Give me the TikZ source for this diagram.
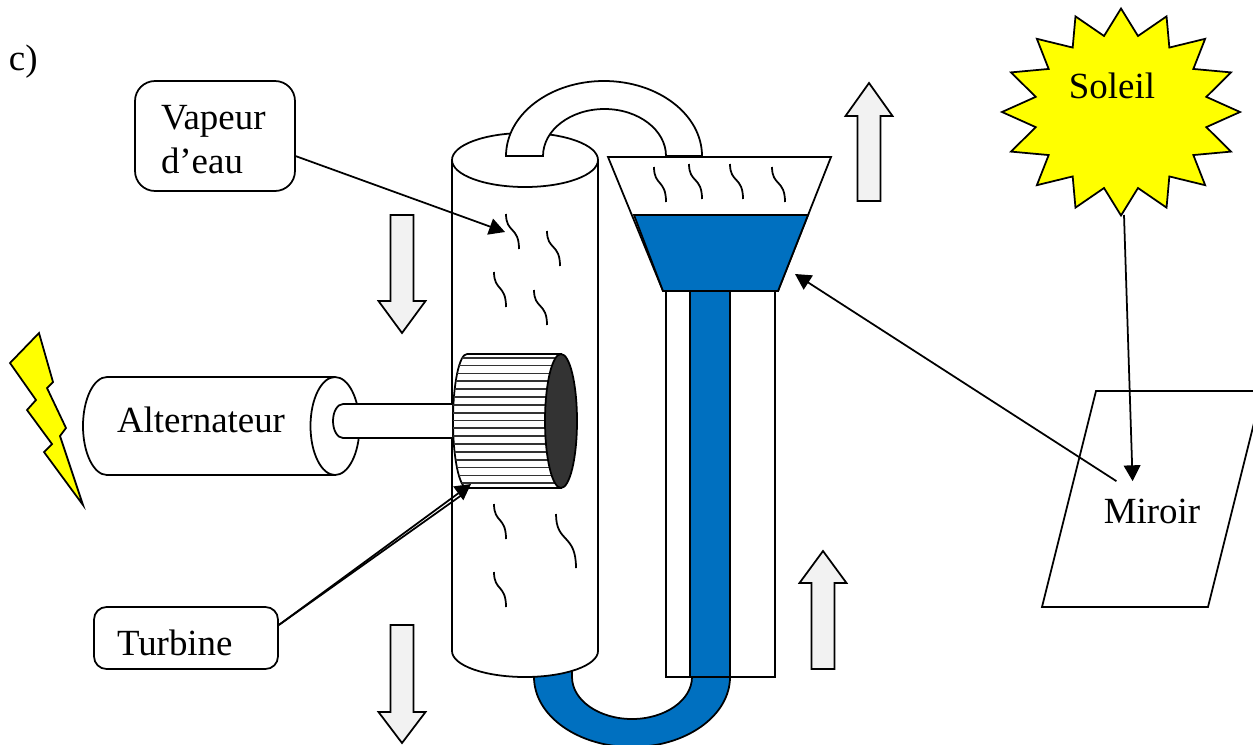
\documentclass[tikz,border=0pt]{standalone}
\usepackage{fontspec}
\setmainfont{Liberation Serif}
\usetikzlibrary{arrows.meta}

\definecolor{eau}{HTML}{0070C0}
\definecolor{jaune}{HTML}{FFFF00}
\definecolor{grisfleche}{HTML}{F2F2F2}

\newcommand{\flechevert}[4]{
	\draw[fleche] (#1,#2) -- (#1+23.5,#3) -- (#1+11.5,#3) -- (#1+11.5,#4)
	-- (#1-11.5,#4) -- (#1-11.5,#3) -- (#1-23.5,#3) -- cycle;
}
\newcommand{\vague}[4]{
	\draw (#1,#2) .. controls (#1,#2+0.55*#4) and (#1+#3,#2+0.35*#4) .. (#1+#3,#2+#4);
}
\newcommand{\descend}[2]{\raisebox{-#1}[\height][\depth]{#2}}

\begin{document}
\begin{tikzpicture}[
			x=0.02cm,
			y=-0.02cm,
			line width=1pt,
			every node/.style={
					font=\fontsize{21}{25}\selectfont,
					inner sep=0pt
				},
			boite/.style={
					draw,
					rounded corners=0.4cm,
					align=left
				},
			fleche/.style={
					draw,
					fill=grisfleche
				},
			>={Stealth[inset=0pt,length=9pt,width=9.5pt]}
		]

		\useasboundingbox (0,0) rectangle (1253,744);

		\node (partie) [anchor=base west] at (8,70) {c)};

		% tube du bas
		\draw[fill=eau] (534,655) -- (534,677) arc[start angle=180,end angle=0,x radius=98,y radius=70]
		-- (692,677) arc[start angle=0,end angle=180,x radius=60,y radius=42] -- (572,655) -- cycle;

		% cylindre
		\draw[fill=white] (452,160) -- (452,651)
		arc[start angle=180,end angle=0,x radius=73,y radius=26] -- (598,160) -- cycle;
		\draw[fill=white] (525,160) ellipse[x radius=73,y radius=27];

		% tube du haut
		\draw[fill=white] (506,156) arc[start angle=180,end angle=360,x radius=98,y radius=75]
		-- (666,156) arc[start angle=360,end angle=180,x radius=61.5,y radius=47] -- cycle;

		% reservoir
		\draw[fill=white] (608,157) -- (831,157) -- (778,291) -- (663,291) -- cycle;
		\draw[fill=eau] (634,215) -- (808,215) -- (778,291) -- (663,291) -- cycle;
		\draw[fill=white] (666,291) rectangle (775,677);
		\draw[fill=eau] (690,291) rectangle (730,677);

		\vague{654}{167}{12}{35}
		\vague{689}{164}{13}{35}
		\vague{730}{164}{13}{35}
		\vague{772}{167}{13}{35}
		\vague{506}{214}{13}{35}
		\vague{547}{231}{13}{35}
		\vague{494}{272}{12}{35}
		\vague{534}{290}{13}{35}
		\vague{494}{504}{12}{35}
		\vague{556}{514}{20}{54}
		\vague{494}{572}{12}{35}

		% alternateur
		\draw[fill=white] (335,377) -- (107,377)
		arc[start angle=270,end angle=180,x radius=24,y radius=49]
		arc[start angle=180,end angle=90,x radius=24,y radius=49] -- (335,475);
		\draw[fill=white] (335,426) ellipse[x radius=24.5,y radius=49];
		\draw[fill=white] (452,404) -- (343,404)
		arc[start angle=270,end angle=90,x radius=10,y radius=17] -- (452,438);
		\node (alternateur) [anchor=base] at (201,432) {Alternateur};

		% turbine
		\begin{scope}
			\draw[fill=white] (467,354) -- (561,354) -- (561,488) -- (467,488)
			arc[start angle=90,end angle=270,x radius=14,y radius=67];
			\clip (467,354) -- (561,354) -- (561,488) -- (467,488)
			arc[start angle=90,end angle=270,x radius=14,y radius=67];
			\foreach \ligne in {357.7,365.55,...,484}
			\draw[line width=1pt,black!80] (440,\ligne) -- (565,\ligne);
		\end{scope}
		\draw[fill=black!80] (561,421) ellipse[x radius=16,y radius=67];

		% eclair
		\draw[fill=jaune] (39,333) -- (53,382) -- (47,388) -- (66,428) -- (60,436) -- (83,505)
		-- (44,452) -- (52,444) -- (27,410) -- (36,400) -- (10,363) -- cycle;

		% soleil
		\draw[fill=jaune] plot[samples at={0,...,31},variable=\k]
		({1121+(119-32*mod(\k,2))*sin(\k*11.25)},{112-(103.5-26*mod(\k,2))*cos(\k*11.25)}) -- cycle;
		\node (soleil) [anchor=base] at (1112,98) {Soleil};
		\coordinate (pointe) at (1124,215);

		% miroir
		\begin{scope}
			\clip (0,0) rectangle (1253,744);
			\draw (1096,391) -- (1262,391) -- (1208,607) -- (1042,607) -- cycle;
		\end{scope}
		\node (miroir) [minimum width=1.92cm,minimum height=1.16cm] at (1152,511) {Miroir};

		\node (vapeur) [boite,text width=2.16cm,inner xsep=0.52cm,minimum height=2.2cm] at (215,136)
		{\descend{0.07cm}{Vapeur}\\\descend{0.07cm}{d’eau}};
		\node (turbine) [boite,rounded corners=0.25cm,text width=2.76cm,inner xsep=0.46cm,
			minimum height=1.24cm] at (186,638) {\descend{0.1cm}{Turbine}};

		\flechevert{402}{333}{301}{215}
		\flechevert{402}{743}{712}{625}
		\flechevert{869}{83}{116}{201}
		\flechevert{823}{551}{583}{669}

		\coordinate (vers vapeur) at (505,232);
		\coordinate (vers turbine) at (471,484);
		\coordinate (bord turbine) at (466,492);
		\coordinate (vers reservoir) at (795,274);

		\draw[->] (vapeur.-14) -- (vers vapeur);
		\draw[->] (turbine.8) -- (vers turbine);
		\draw (turbine.8) -- (bord turbine);
		\draw[->] (miroir.140) -- (vers reservoir);
		\draw[->] (pointe) -- (miroir.123);

	\end{tikzpicture}
\end{document}
